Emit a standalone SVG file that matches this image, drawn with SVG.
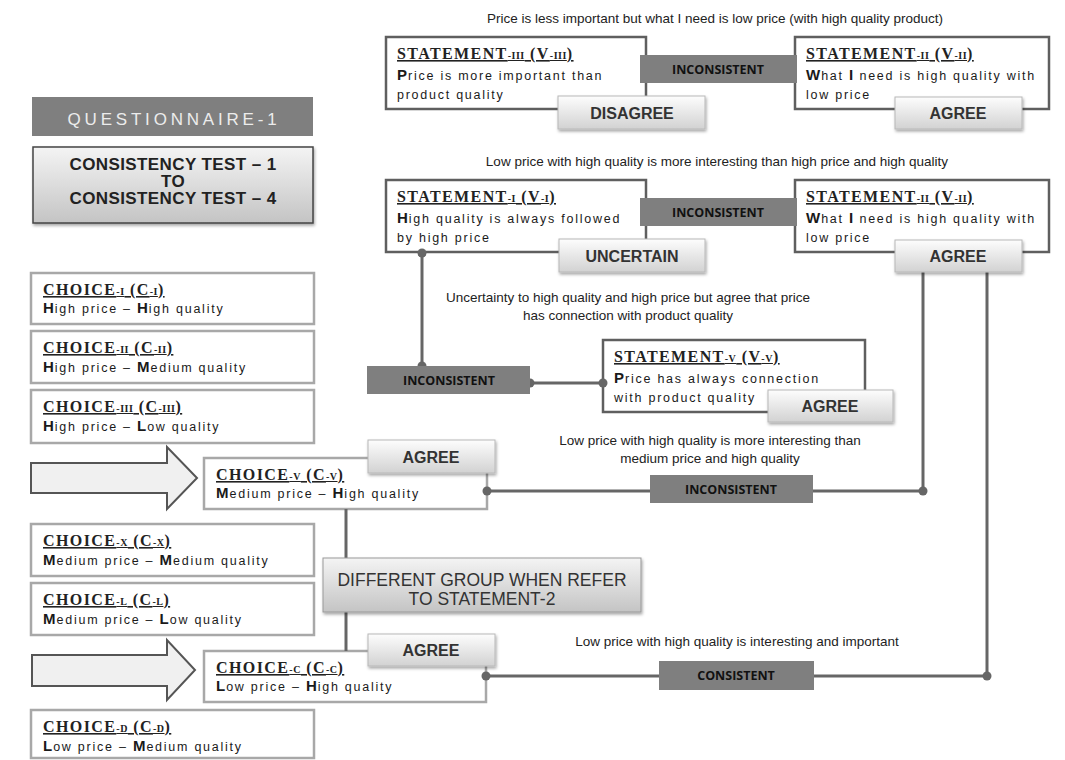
<svg xmlns="http://www.w3.org/2000/svg" width="1065" height="760" viewBox="0 0 1065 760">
<defs>
<linearGradient id="btn" x1="0" y1="0" x2="0" y2="1"><stop offset="0" stop-color="#fdfdfd"/><stop offset="1" stop-color="#d2d2d2"/></linearGradient>
<linearGradient id="box" x1="0" y1="0" x2="0" y2="1"><stop offset="0" stop-color="#f4f4f4"/><stop offset="1" stop-color="#c4c4c4"/></linearGradient>
<filter id="sh" x="-10%" y="-20%" width="125%" height="160%"><feDropShadow dx="1" dy="2" stdDeviation="1.5" flood-color="#000" flood-opacity="0.35"/></filter>
<style>
.ann{font-family:"Liberation Sans",Arial,sans-serif;font-size:13.5px;fill:#222;text-anchor:middle}
.stm{fill:#fff;stroke:#5f5f5f;stroke-width:2.5}
.cho{fill:#fff;stroke:#a8a8a8;stroke-width:2.5}
.ttl{font-family:"Liberation Serif","Times New Roman",serif;font-weight:bold;font-size:16px;letter-spacing:1.4px;fill:#222;text-decoration:underline}
.sm{font-size:10px;letter-spacing:0.5px}
.body{font-family:"Liberation Sans",Arial,sans-serif;font-size:12.5px;letter-spacing:1.75px;fill:#1a1a1a}
.b{font-weight:bold;font-size:15px;letter-spacing:1px}
.bar{fill:#7f7f7f}
.bart{font-family:"Open Sans","Liberation Sans",sans-serif;font-weight:bold;font-size:12.5px;fill:#111;text-anchor:middle}
.btn{fill:url(#btn);stroke:#b8b8b8;stroke-width:1;filter:url(#sh)}
.btnt{font-family:"Liberation Sans",Arial,sans-serif;font-weight:bold;font-size:16px;fill:#333;text-anchor:middle}
.ln{stroke:#666;stroke-width:3;fill:none}
.dot{fill:#666}
.arr{fill:#f0f0f0;stroke:#555;stroke-width:2}
</style>
</defs>
<rect width="1065" height="760" fill="#fff"/>

<!-- annotations -->
<g id="annotations">
<text class="ann" x="715" y="23">Price is less important but what I need is low price (with high quality product)</text>
<text class="ann" x="717" y="166">Low price with high quality is more interesting than high price and high quality</text>
<text class="ann" x="628" y="302">Uncertainty to high quality and high price but agree that price</text>
<text class="ann" x="628" y="320">has connection with product quality</text>
<text class="ann" x="710" y="445">Low price with high quality is more interesting than</text>
<text class="ann" x="710" y="463">medium price and high quality</text>
<text class="ann" x="737" y="646">Low price with high quality is interesting and important</text>
</g>

<g id="questionnaire">
<rect x="32" y="97" width="281" height="39" fill="#7f7f7f"/>
<text x="174" y="125" font-family="Liberation Sans, Arial, sans-serif" font-size="17" letter-spacing="3.8" fill="#ececec" text-anchor="middle">QUESTIONNAIRE-1</text>
</g>

<g id="consistency-test">
<rect x="33" y="147" width="280" height="76" fill="url(#box)" stroke="#444" stroke-width="1.5" filter="url(#sh)"/>
<g font-family="Liberation Sans, Arial, sans-serif" font-weight="bold" font-size="17" letter-spacing="0.4" fill="#222" text-anchor="middle">
<text x="173" y="170">CONSISTENCY TEST – 1</text>
<text x="173" y="187">TO</text>
<text x="173" y="204">CONSISTENCY TEST – 4</text>
</g>
</g>

<!-- statement boxes -->
<g id="statement-3">
<rect class="stm" x="386" y="37" width="260" height="72"/>
<text class="ttl" x="397" y="59">STATEMENT<tspan class="sm">-III</tspan> (V<tspan class="sm">-III</tspan>)</text>
<text class="body" x="397" y="80"><tspan class="b">P</tspan>rice is more important than</text>
<text class="body" x="397" y="99">product quality</text>
</g>
<g id="statement-2a">
<rect class="stm" x="795" y="37" width="254" height="72"/>
<text class="ttl" x="806" y="59">STATEMENT<tspan class="sm">-II</tspan> (V<tspan class="sm">-II</tspan>)</text>
<text class="body" x="806" y="80"><tspan class="b">W</tspan>hat <tspan class="b">I</tspan> need is high quality with</text>
<text class="body" x="806" y="99">low price</text>
</g>
<g id="statement-1">
<rect class="stm" x="386" y="180" width="260" height="72"/>
<text class="ttl" x="397" y="202">STATEMENT<tspan class="sm">-I</tspan> (V<tspan class="sm">-I</tspan>)</text>
<text class="body" x="397" y="223"><tspan class="b">H</tspan>igh quality is always followed</text>
<text class="body" x="397" y="242">by high price</text>
</g>
<g id="statement-2b">
<rect class="stm" x="795" y="180" width="254" height="72"/>
<text class="ttl" x="806" y="202">STATEMENT<tspan class="sm">-II</tspan> (V<tspan class="sm">-II</tspan>)</text>
<text class="body" x="806" y="223"><tspan class="b">W</tspan>hat <tspan class="b">I</tspan> need is high quality with</text>
<text class="body" x="806" y="242">low price</text>
</g>
<g id="statement-5">
<rect class="stm" x="603" y="340" width="262" height="72"/>
<text class="ttl" x="614" y="362">STATEMENT<tspan class="sm">-V</tspan> (V<tspan class="sm">-V</tspan>)</text>
<text class="body" x="614" y="383"><tspan class="b">P</tspan>rice has always connection</text>
<text class="body" x="614" y="402">with product quality</text>
</g>

<!-- choices -->
<g id="choice-1">
<rect class="cho" x="31" y="273" width="283" height="51"/>
<text class="ttl" x="43" y="295">CHOICE<tspan class="sm">-I</tspan> (C<tspan class="sm">-I</tspan>)</text>
<text class="body" x="43" y="313"><tspan class="b">H</tspan>igh price – <tspan class="b">H</tspan>igh quality</text>
</g>
<g id="choice-2">
<rect class="cho" x="31" y="331" width="283" height="52"/>
<text class="ttl" x="43" y="353">CHOICE<tspan class="sm">-II</tspan> (C<tspan class="sm">-II</tspan>)</text>
<text class="body" x="43" y="372"><tspan class="b">H</tspan>igh price – <tspan class="b">M</tspan>edium quality</text>
</g>
<g id="choice-3">
<rect class="cho" x="31" y="390" width="283" height="53"/>
<text class="ttl" x="43" y="412">CHOICE<tspan class="sm">-III</tspan> (C<tspan class="sm">-III</tspan>)</text>
<text class="body" x="43" y="431"><tspan class="b">H</tspan>igh price – <tspan class="b">L</tspan>ow quality</text>
</g>
<g id="choice-5">
<polygon class="arr" points="31,463 167,463 167,447 197,478 167,509 167,493 31,493"/>
<rect class="cho" x="204" y="458" width="283" height="51"/>
<text class="ttl" x="216" y="480">CHOICE<tspan class="sm">-V</tspan> (C<tspan class="sm">-V</tspan>)</text>
<text class="body" x="216" y="498"><tspan class="b">M</tspan>edium price – <tspan class="b">H</tspan>igh quality</text>
</g>
<g id="choice-10">
<rect class="cho" x="31" y="524" width="283" height="52"/>
<text class="ttl" x="43" y="546">CHOICE<tspan class="sm">-X</tspan> (C<tspan class="sm">-X</tspan>)</text>
<text class="body" x="43" y="565"><tspan class="b">M</tspan>edium price – <tspan class="b">M</tspan>edium quality</text>
</g>
<g id="choice-50">
<rect class="cho" x="31" y="583" width="283" height="52"/>
<text class="ttl" x="43" y="605">CHOICE<tspan class="sm">-L</tspan> (C<tspan class="sm">-L</tspan>)</text>
<text class="body" x="43" y="624"><tspan class="b">M</tspan>edium price – <tspan class="b">L</tspan>ow quality</text>
</g>
<g id="choice-100">
<polygon class="arr" points="32,655 167,655 167,640 195,670 167,700 167,686 32,686"/>
<rect class="cho" x="204" y="651" width="282" height="51"/>
<text class="ttl" x="216" y="673">CHOICE<tspan class="sm">-C</tspan> (C<tspan class="sm">-C</tspan>)</text>
<text class="body" x="216" y="691"><tspan class="b">L</tspan>ow price – <tspan class="b">H</tspan>igh quality</text>
</g>
<g id="choice-500">
<rect class="cho" x="31" y="710" width="283" height="48"/>
<text class="ttl" x="43" y="732">CHOICE<tspan class="sm">-D</tspan> (C<tspan class="sm">-D</tspan>)</text>
<text class="body" x="43" y="751"><tspan class="b">L</tspan>ow price – <tspan class="b">M</tspan>edium quality</text>
</g>

<!-- connectors -->
<g id="connectors">
<line class="ln" x1="422" y1="252" x2="422" y2="366"/>
<line class="ln" x1="530" y1="383" x2="603" y2="383"/>
<line class="ln" x1="923" y1="272" x2="923" y2="491"/>
<line class="ln" x1="987" y1="272" x2="987" y2="676"/>
<line class="ln" x1="487" y1="491" x2="923" y2="491"/>
<line class="ln" x1="486" y1="676" x2="987" y2="676"/>
<line class="ln" x1="346" y1="509" x2="346" y2="651" stroke="#888"/>
<circle class="dot" cx="422" cy="253" r="4.5"/>
<circle class="dot" cx="422" cy="366" r="4.5"/>
<circle class="dot" cx="530" cy="383" r="4.5"/>
<circle class="dot" cx="603" cy="383" r="4.5"/>
<circle class="dot" cx="487" cy="491" r="4.5"/>
<circle class="dot" cx="923" cy="491" r="4.5"/>
<circle class="dot" cx="486" cy="676" r="4.5"/>
<circle class="dot" cx="987" cy="676" r="4.5"/>
</g>

<!-- relation bars -->
<g id="inconsistent-1">
<rect class="bar" x="640" y="55" width="157" height="28"/>
<text class="bart" x="718" y="74">INCONSISTENT</text>
</g>
<g id="inconsistent-2">
<rect class="bar" x="640" y="198" width="157" height="28"/>
<text class="bart" x="718" y="217">INCONSISTENT</text>
</g>
<g id="inconsistent-3">
<rect class="bar" x="367" y="366" width="163" height="28"/>
<text class="bart" x="449" y="385">INCONSISTENT</text>
</g>
<g id="inconsistent-4">
<rect class="bar" x="650" y="475" width="163" height="28"/>
<text class="bart" x="731" y="494">INCONSISTENT</text>
</g>
<g id="consistent">
<rect class="bar" x="659" y="661" width="155" height="29"/>
<text class="bart" x="736" y="680">CONSISTENT</text>
</g>

<!-- answer buttons -->
<g id="disagree">
<rect class="btn" x="558" y="96" width="147" height="33"/>
<text class="btnt" x="632" y="119">DISAGREE</text>
</g>
<g id="agree-1">
<rect class="btn" x="895" y="97" width="127" height="32"/>
<text class="btnt" x="958" y="119">AGREE</text>
</g>
<g id="uncertain">
<rect class="btn" x="559" y="239" width="146" height="33"/>
<text class="btnt" x="632" y="262">UNCERTAIN</text>
</g>
<g id="agree-2">
<rect class="btn" x="895" y="240" width="127" height="32"/>
<text class="btnt" x="958" y="262">AGREE</text>
</g>
<g id="agree-3">
<rect class="btn" x="768" y="390" width="125" height="32"/>
<text class="btnt" x="830" y="412">AGREE</text>
</g>
<g id="agree-4">
<rect class="btn" x="368" y="440" width="127" height="33"/>
<text class="btnt" x="431" y="463">AGREE</text>
</g>
<g id="agree-5">
<rect class="btn" x="368" y="634" width="127" height="32"/>
<text class="btnt" x="431" y="656">AGREE</text>
</g>

<g id="different-group">
<rect x="323" y="558" width="318" height="54" fill="url(#box)" stroke="#999" stroke-width="1" filter="url(#sh)"/>
<g font-family="Liberation Sans, Arial, sans-serif" font-size="17.5" fill="#333" text-anchor="middle">
<text x="482" y="586">DIFFERENT GROUP WHEN REFER</text>
<text x="482" y="605">TO STATEMENT-2</text>
</g>
</g>
</svg>
